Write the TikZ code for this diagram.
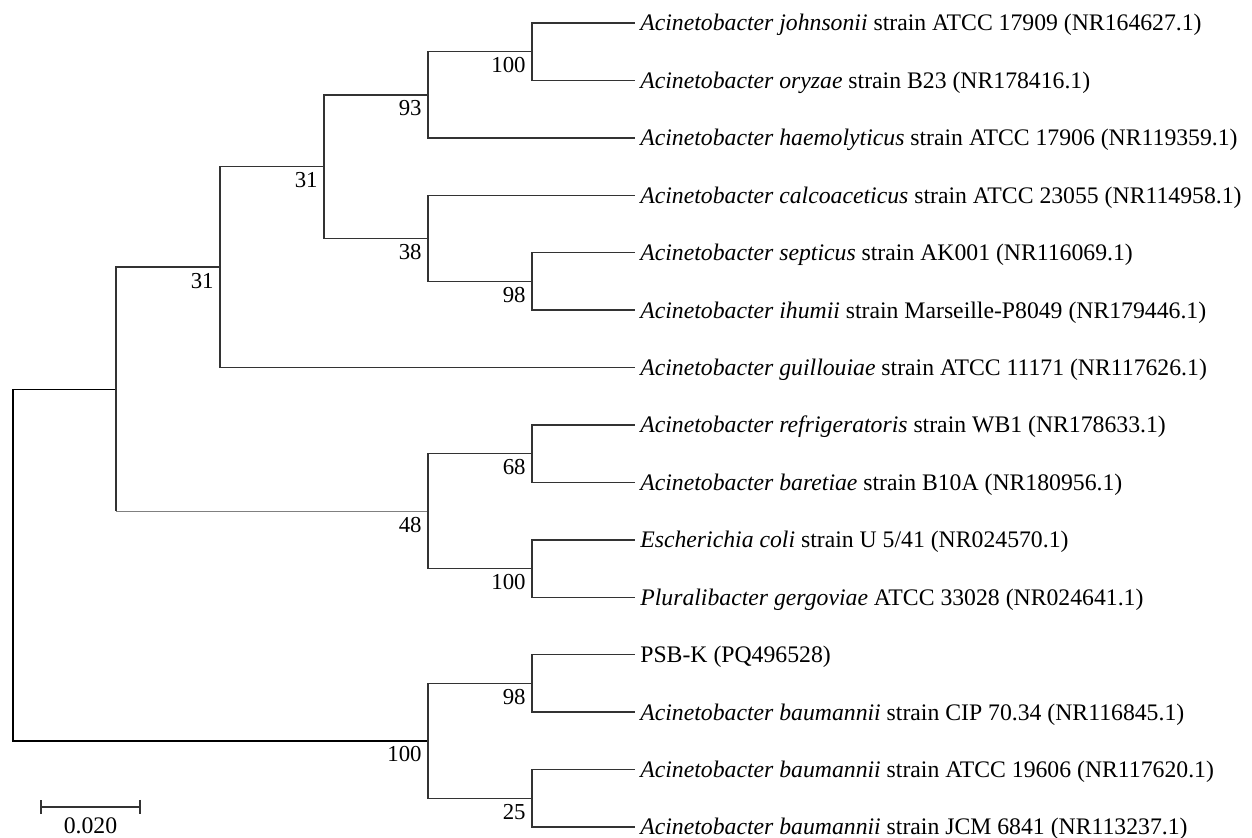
\documentclass[tikz,border=0pt]{standalone}
\usepackage{fontspec}
\setmainfont{Liberation Serif}
\usetikzlibrary{arrows.meta}
\tikzset{
	branch/.style={draw=black!80, line width=0.9pt},
	thinbranch/.style={draw=black!50, line width=0.5pt},
	rootline/.style={draw=black, line width=0.7pt},
	leaf/.style={anchor=west, inner xsep=0.1cm, inner ysep=0pt, text height=8.9pt, text depth=0pt,
		font=\fontsize{13.5pt}{16pt}\selectfont},
	boot/.style={anchor=base east, inner sep=0pt, xshift=-0.12cm, yshift=-0.42cm,
		font=\fontsize{13pt}{15pt}\selectfont},
	scalelbl/.style={anchor=base, inner sep=0pt, font=\fontsize{13.5pt}{16pt}\selectfont}
}
\begin{document}
\begin{tikzpicture}[x=0.02cm, y=-0.02cm, line join=miter]
	\useasboundingbox (0,0) rectangle (1252,838);
	% --- Các mức của cây ---
	\def\xa{13} \def\xb{116} \def\xc{220} \def\xd{324}
	\def\xe{428} \def\xf{532} \def\xg{635}
	% --- Các lá ---
	\node[leaf] (johnsonii) at (\xg,23.0) {\textit{Acinetobacter johnsonii} strain ATCC 17909 (NR164627.1)};
	\node[leaf] (oryzae) at (\xg,80.4) {\textit{Acinetobacter oryzae} strain B23 (NR178416.1)};
	\node[leaf] (haemolyticus) at (\xg,137.9) {\textit{Acinetobacter haemolyticus} strain ATCC 17906 (NR119359.1)};
	\node[leaf] (calcoaceticus) at (\xg,195.3) {\textit{Acinetobacter calcoaceticus} strain ATCC 23055 (NR114958.1)};
	\node[leaf] (septicus) at (\xg,252.7) {\textit{Acinetobacter septicus} strain AK001 (NR116069.1)};
	\node[leaf] (ihumii) at (\xg,310.2) {\textit{Acinetobacter ihumii} strain Marseille-P8049 (NR179446.1)};
	\node[leaf] (guillouiae) at (\xg,367.6) {\textit{Acinetobacter guillouiae} strain ATCC 11171 (NR117626.1)};
	\node[leaf] (refrigeratoris) at (\xg,425.0) {\textit{Acinetobacter refrigeratoris} strain WB1 (NR178633.1)};
	\node[leaf] (baretiae) at (\xg,482.4) {\textit{Acinetobacter baretiae} strain B10A (NR180956.1)};
	\node[leaf] (ecoli) at (\xg,539.9) {\textit{Escherichia coli} strain U 5/41 (NR024570.1)};
	\node[leaf] (gergoviae) at (\xg,597.3) {\textit{Pluralibacter gergoviae} ATCC 33028 (NR024641.1)};
	\node[leaf] (psbk) at (\xg,654.7) {PSB-K (PQ496528)};
	\node[leaf] (bauCIP) at (\xg,712.2) {\textit{Acinetobacter baumannii} strain CIP 70.34 (NR116845.1)};
	\node[leaf] (bauATCC) at (\xg,769.6) {\textit{Acinetobacter baumannii} strain ATCC 19606 (NR117620.1)};
	\node[leaf] (bauJCM) at (\xg,827.0) {\textit{Acinetobacter baumannii} strain JCM 6841 (NR113237.1)};
	% --- Các nút trong ---
	\coordinate (nJO) at (\xf,51.7);
	\coordinate (nSI) at (\xf,281.4);
	\coordinate (nRB) at (\xf,453.7);
	\coordinate (nEP) at (\xf,568.6);
	\coordinate (nPC) at (\xf,683.5);
	\coordinate (nAJ) at (\xf,798.3);
	\coordinate (nJH) at (\xe,94.8);
	\coordinate (nCS) at (\xe,238.4);
	\coordinate (nRE) at (\xe,511.2);
	\coordinate (nBau) at (\xe,740.9);
	\coordinate (nUp) at (\xd,166.6);
	\coordinate (nGui) at (\xc,267.1);
	\coordinate (nAll) at (\xb,389.2);
	\coordinate (root) at (\xa,565.0);
	% --- Nhánh ---
	\draw[rootline] (root) |- (nAll);
	\draw[rootline] (root) |- (nBau);
	\draw[branch] (nAll) |- (nGui);
	\draw[branch] (nAll) -- (nAll |- nRE);
	\draw[thinbranch] (nAll |- nRE) -- (nRE);
	\draw[branch] (nGui) |- (nUp);
	\draw[branch] (nGui) |- (guillouiae.west);
	\draw[branch] (nUp) |- (nJH);
	\draw[branch] (nUp) |- (nCS);
	\draw[branch] (nJH) |- (nJO);
	\draw[branch] (nJH) |- (haemolyticus.west);
	\draw[branch] (nJO) |- (johnsonii.west);
	\draw[branch] (nJO) |- (oryzae.west);
	\draw[branch] (nCS) |- (calcoaceticus.west);
	\draw[branch] (nCS) |- (nSI);
	\draw[branch] (nSI) |- (septicus.west);
	\draw[branch] (nSI) |- (ihumii.west);
	\draw[branch] (nRE) |- (nRB);
	\draw[branch] (nRE) |- (nEP);
	\draw[branch] (nRB) |- (refrigeratoris.west);
	\draw[branch] (nRB) |- (baretiae.west);
	\draw[branch] (nEP) |- (ecoli.west);
	\draw[branch] (nEP) |- (gergoviae.west);
	\draw[branch] (nBau) |- (nPC);
	\draw[branch] (nBau) |- (nAJ);
	\draw[branch] (nPC) |- (psbk.west);
	\draw[branch] (nPC) |- (bauCIP.west);
	\draw[branch] (nAJ) |- (bauATCC.west);
	\draw[branch] (nAJ) |- (bauJCM.west);
	% --- Giá trị bootstrap ---
	\node[boot] (bJO) at (nJO) {100};
	\node[boot] (bSI) at (nSI) {98};
	\node[boot] (bRB) at (nRB) {68};
	\node[boot] (bEP) at (nEP) {100};
	\node[boot] (bPC) at (nPC) {98};
	\node[boot] (bAJ) at (nAJ) {25};
	\node[boot] (bJH) at (nJH) {93};
	\node[boot] (bCS) at (nCS) {38};
	\node[boot] (bRE) at (nRE) {48};
	\node[boot] (bBau) at (nBau) {100};
	\node[boot] (bUp) at (nUp) {31};
	\node[boot] (bGui) at (nGui) {31};
	% --- Thanh tỉ lệ ---
	\coordinate (sbL) at (40,807);
	\coordinate (sbR) at (141,807);
	\draw[branch, {Bar[width=8pt]}-{Bar[width=8pt]}] (sbL) -- (sbR);
	\node[scalelbl] (sbText) at (90.5,833.5) {0.020};
\end{tikzpicture}
\end{document}
